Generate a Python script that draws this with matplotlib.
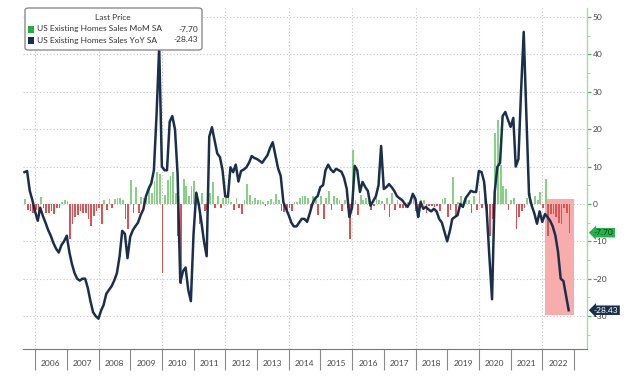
import matplotlib
matplotlib.use("Agg")
import matplotlib.pyplot as plt
import matplotlib.dates as mdates
from matplotlib.patches import FancyBboxPatch, Rectangle
from matplotlib.ticker import MultipleLocator, NullFormatter
import pandas as pd

plt.rcParams['font.family'] = ['Lato', 'DejaVu Sans']

# monthly values, Aug 2005 .. Oct 2022 (month end)
first_month = "2005-08-31"

yoy = [
    8.5, 8.8, 3.5, 1.0, -2.0,                                              # 2005
    -4.5, -1.0, -3.2, -5.0, -7.0, -8.5, -10.5, -12.0, -13.0, -11.0, -10.0, -8.5,  # 2006
    -13.0, -16.0, -18.5, -20.0, -20.5, -20.0, -20.0, -22.5, -26.0, -29.0, -30.0, -30.7,  # 2007
    -28.5, -27.0, -24.0, -23.0, -22.0, -20.5, -18.5, -14.0, -7.2, -8.0, -14.5, -8.8,  # 2008
    -7.0, -6.0, -5.0, -3.0, -1.5, 2.0, 4.0, 5.5, 9.0, 24.0, 42.0, 10.0,    # 2009
    9.0, 9.0, 22.0, 23.5, 20.0, 8.0, -21.0, -18.0, -17.0, -23.0, -26.0, -8.0,  # 2010
    3.0, 0.0, -4.8, -10.0, -14.0, 18.0, 20.5, 17.0, 13.5, 12.5, 9.0, 2.0,  # 2011
    1.9, 9.8, 8.5, 10.5, 6.0, 8.8, 9.2, 9.8, 11.0, 12.8, 12.3, 12.0,       # 2012
    11.5, 11.0, 12.0, 13.0, 15.0, 16.5, 13.0, 9.5, 7.5, 0.5, -1.3, -3.0,   # 2013
    -5.0, -6.0, -6.0, -5.0, -4.0, -4.0, -4.8, -2.5, 0.0, 1.5, 2.1, 4.5,    # 2014
    5.0, 9.0, 10.5, 9.2, 8.5, 9.4, 9.0, 8.6, 7.0, 4.0, -3.5, -1.0,         # 2015
    10.2, 9.0, 3.2, 5.9, 4.5, 3.5, -0.5, 0.8, 2.0, 5.0, 15.5, 4.0,         # 2016
    4.5, 5.3, 4.5, 3.5, 2.1, 1.5, 1.0, 0.0, -0.8, 0.5, 2.7, 1.3,           # 2017
    -3.5, 0.5, -1.3, -0.8, -1.5, -2.0, -1.3, -2.0, -4.0, -5.0, -7.5, -10.0,  # 2018
    -7.2, -4.0, -3.5, -3.0, 0.0, -0.8, 1.5, 2.5, 3.5, 3.2, 3.2, 8.8,       # 2019
    8.5, 6.0, -2.0, -14.0, -25.5, 3.0, 9.9, 11.0, 23.5, 24.6, 22.5, 20.6,  # 2020
    23.0, 10.0, 12.0, 30.0, 46.0, 24.0, 2.5, -0.5, -2.5, -5.3, -2.0, -4.8,  # 2021
    -2.7, -3.5, -4.5, -6.0, -8.5, -12.8, -20.0, -20.6, -24.5, -28.43,      # 2022
]

mom = [
    1.2, -1.5, -2.0, -2.5, -1.5,                                           # 2005
    -4.0, 1.8, -1.0, -2.5, -2.5, -2.0, -2.8, -1.0, -1.0, 0.5, 1.0, 0.8,    # 2006
    -9.5, -5.3, -3.5, -3.0, -2.0, -2.5, -2.5, -4.0, -6.0, -3.3, -2.0, -1.0,  # 2007
    -5.3, 1.0, -1.5, 1.2, -1.0, 1.3, 1.5, 1.7, 1.0, -4.0, -6.7, 6.5,       # 2008
    -2.5, 4.5, -2.3, 1.8, 1.5, 2.5, 4.8, 3.0, 6.2, 8.5, 8.0, -18.5,        # 2009
    2.5, 6.5, 7.5, 8.5, 3.0, -8.5, -21.5, 6.7, 4.8, 2.0, 4.8, 6.2,         # 2010
    3.0, -5.3, 3.0, -2.0, -1.5, 3.0, 5.8, -1.0, 2.0, -1.0, 1.5, 1.5,       # 2011
    2.0, 0.5, -1.5, 1.5, -1.0, -2.7, 1.0, 5.3, 2.3, 0.8, 1.5, 1.0,         # 2012
    1.0, 0.5, -0.5, 0.8, 1.2, 0.5, 2.7, 1.0, -1.8, -2.2, -1.5, -1.0,       # 2013
    -2.0, 0.5, 0.5, 1.5, 2.0, 2.0, 1.5, -1.8, 2.0, 1.5, -3.0, 2.0,         # 2014
    -4.0, 1.5, 3.5, -1.5, 2.0, 1.5, 1.0, -2.0, 1.0, -1.0, -9.4, 14.5,      # 2015
    1.0, -3.0, 2.3, 1.0, 1.5, 1.0, -1.5, -0.5, 1.5, 1.0, 0.8, -1.5,        # 2016
    1.5, -3.5, 3.0, -1.5, 1.0, -1.0, -1.0, -1.2, 0.5, 1.0, 3.0, -2.0,      # 2017
    -3.5, 1.0, 1.0, -2.5, -0.5, -0.6, -0.7, -0.5, -2.0, 1.2, 1.5, -3.5,    # 2018
    -1.5, 7.3, -3.5, 0.5, 2.0, -1.0, 2.0, 1.0, -2.5, 2.0, -1.5, 3.5,       # 2019
    -1.0, 5.0, -8.0, -8.5, -4.0, 19.0, 22.5, 10.5, 4.8, 4.0, -1.5, 1.0,    # 2020
    1.5, -6.7, -3.5, -2.0, -1.0, 1.5, 3.0, -1.5, 2.0, 1.0, 3.3, -1.0,      # 2021
    6.7, -8.7, -2.7, -2.7, -3.5, -5.0, -5.5, -1.0, -2.5, -7.7,             # 2022
]

label_mom = "US Existing Homes Sales MoM SA"
label_yoy = "US Existing Homes Sales YoY SA"
last_mom = -7.70
last_yoy = -28.43

green = "#86d186"
red = "#d95454"
navy = "#1b2f4b"

dates = pd.date_range(first_month, periods=len(yoy), freq="ME")

fig = plt.figure(figsize=(6.4, 3.84), dpi=100)
ax = fig.add_axes([23 / 640, 1 - 349 / 384, 564 / 640, 341 / 384])

# highlight of 2022
ax.fill_between([pd.Timestamp("2022-02-03"), pd.Timestamp("2022-12-31")], -29.8, 1.3,
                color="#f8adad", lw=0, zorder=1)

bar_colors = [green if v >= 0 else red for v in mom]
ax.bar(dates + pd.Timedelta(days=8), mom, width=20, color=bar_colors, zorder=2)
ax.plot(dates, yoy, color=navy, lw=1.8, zorder=3, solid_joinstyle="round")

# grid
for v in range(-30, 51, 10):
    ax.axhline(v, color="#c4c4c4", ls=(0, (1, 2)), lw=0.8, zorder=0)
for yr in range(2006, 2023, 2):
    ax.axvline(pd.Timestamp(f"{yr}-01-01"), color="#c4c4c4", ls=(0, (1, 2)), lw=0.8, zorder=0)

ax.set_xlim(pd.Timestamp("2005-08-14"), pd.Timestamp("2023-05-30"))
ax.set_ylim(-38.8, 52.4)

# x axis: year separators + centred year labels
ax.xaxis.set_major_locator(mdates.YearLocator())
ax.xaxis.set_major_formatter(NullFormatter())
ax.xaxis.set_minor_locator(mdates.MonthLocator(bymonth=7))
ax.xaxis.set_minor_formatter(mdates.DateFormatter("%Y"))
ax.tick_params(axis="x", which="major", length=15, width=0.8, color="#8a8a8a")
ax.tick_params(axis="x", which="minor", length=0, pad=8, labelsize=6, labelcolor="#444444")

# right y axis
ax.yaxis.tick_right()
ax.set_yticks(range(-30, 51, 10))
ax.yaxis.set_minor_locator(MultipleLocator(5))
ax.tick_params(axis="y", which="major", length=3, width=0.9, color="#4caf50",
               labelsize=6, labelcolor="#444444", pad=1)
ax.tick_params(axis="y", which="minor", length=2, width=0.6, color="#8fd18f")

for s in ["left", "top"]:
    ax.spines[s].set_visible(False)
ax.spines["right"].set_color("#a6dca6")
ax.spines["right"].set_linewidth(1.0)
ax.spines["bottom"].set_color("#777777")
ax.spines["bottom"].set_linewidth(0.8)

# last value tags
ax.annotate(f"{last_mom:.2f}", xy=(1.0, last_mom), xycoords=("axes fraction", "data"),
            xytext=(5, 0), textcoords="offset points", ha="left", va="center",
            fontsize=6, color="#0b3b0b", zorder=10, annotation_clip=False,
            bbox=dict(boxstyle="larrow,pad=0.15", fc="#22b24c", ec="none"))
ax.annotate(f"{last_yoy:.2f}", xy=(1.0, last_yoy), xycoords=("axes fraction", "data"),
            xytext=(5, 0), textcoords="offset points", ha="left", va="center",
            fontsize=6, color="white", zorder=10, annotation_clip=False,
            bbox=dict(boxstyle="larrow,pad=0.15", fc=navy, ec="none"))

# legend box
tf = fig.transFigure
box = FancyBboxPatch((25 / 640, 1 - 50 / 384), 177 / 640, 42 / 384,
                     boxstyle="round,pad=0,rounding_size=0.006", transform=tf,
                     fc="white", ec="#8c8c8c", lw=1.0, zorder=8, clip_on=False)
ax.add_patch(box)
ax.text(113 / 640, 1 - 18 / 384, "Last Price", transform=tf, ha="center", va="center",
        fontsize=6, color="#333333", zorder=9)
for i, (lab, val, col) in enumerate([(label_mom, last_mom, "#1fae3f"),
                                     (label_yoy, last_yoy, navy)]):
    yc = 29 + i * 11
    ax.add_patch(Rectangle((28 / 640, 1 - (yc + 3.5) / 384), 6 / 640, 7 / 384,
                           transform=tf, fc=col, ec="none", zorder=9, clip_on=False))
    ax.text(37 / 640, 1 - yc / 384, lab, transform=tf, ha="left", va="center",
            fontsize=6, color="#333333", zorder=9)
    ax.text(198 / 640, 1 - yc / 384, f"{val:.2f}", transform=tf, ha="right", va="center",
            fontsize=6, color="#333333", zorder=9)

fig.savefig("out.png", dpi=100)
